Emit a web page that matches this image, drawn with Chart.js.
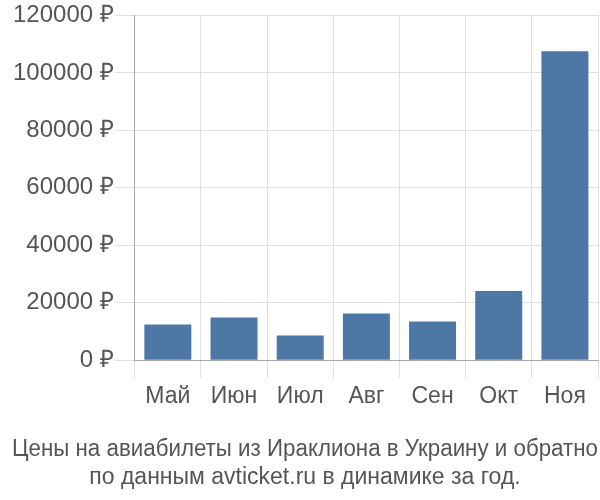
<!DOCTYPE html>
<html>
<head>
<meta charset="utf-8">
<script src="https://cdn.jsdelivr.net/npm/chart.js@4/dist/chart.umd.min.js"></script>
<style>
  html, body { margin: 0; padding: 0; background: #fff; }
  #wrap { width: 600px; height: 500px; }
</style>
</head>
<body>
<div id="wrap"><canvas id="chart"></canvas></div>
<script>
// данные графика
const months = ["Май", "Июн", "Июл", "Авг", "Сен", "Окт", "Ноя"];
const prices = [12450, 14850, 8650, 16300, 13500, 24100, 107500];
const titleLines = [
  "Цены на авиабилеты из Ираклиона в Украину и обратно",
  "по данным avticket.ru в динамике за год."
];

const textColor = "#555";
const gridColor = "#e0e0e0";
const axisColor = "#aaa";
const fontFamily = "'Liberation Sans', Arial, sans-serif";

new Chart(document.getElementById("chart"), {
  type: "bar",
  data: {
    labels: months,
    datasets: [
      {
        data: prices,
        backgroundColor: "#4d78a6",
        borderWidth: 0,
        categoryPercentage: 1,
        barPercentage: 0.71,
      },
    ],
  },
  options: {
    responsive: true,
    maintainAspectRatio: false,
    animation: false,
    layout: { padding: { left: 12, right: 2, top: 1, bottom: 0 } },
    plugins: {
      legend: { display: false },
      tooltip: { enabled: false },
      title: {
        display: true,
        position: "bottom",
        text: titleLines,
        color: textColor,
        font: { family: fontFamily, size: 23, weight: "normal", lineHeight: 1.22 },
        padding: { top: 20, bottom: 8 },
      },
    },
    scales: {
      x: {
        grid: {
          color: gridColor,
          offset: true,
          tickLength: 18,
          tickColor: gridColor,
        },
        border: { color: axisColor },
        ticks: {
          color: textColor,
          font: { family: fontFamily, size: 23 },
          padding: 5,
        },
      },
      y: {
        min: 0,
        max: 120000,
        grid: {
          color: gridColor,
          tickLength: 20,
          tickColor: gridColor,
        },
        border: { color: axisColor },
        ticks: {
          stepSize: 20000,
          color: textColor,
          font: { family: fontFamily, size: 24 },
          padding: 1,
          callback: (v) => v + " ₽",
        },
      },
    },
  },
});
</script>
</body>
</html>
